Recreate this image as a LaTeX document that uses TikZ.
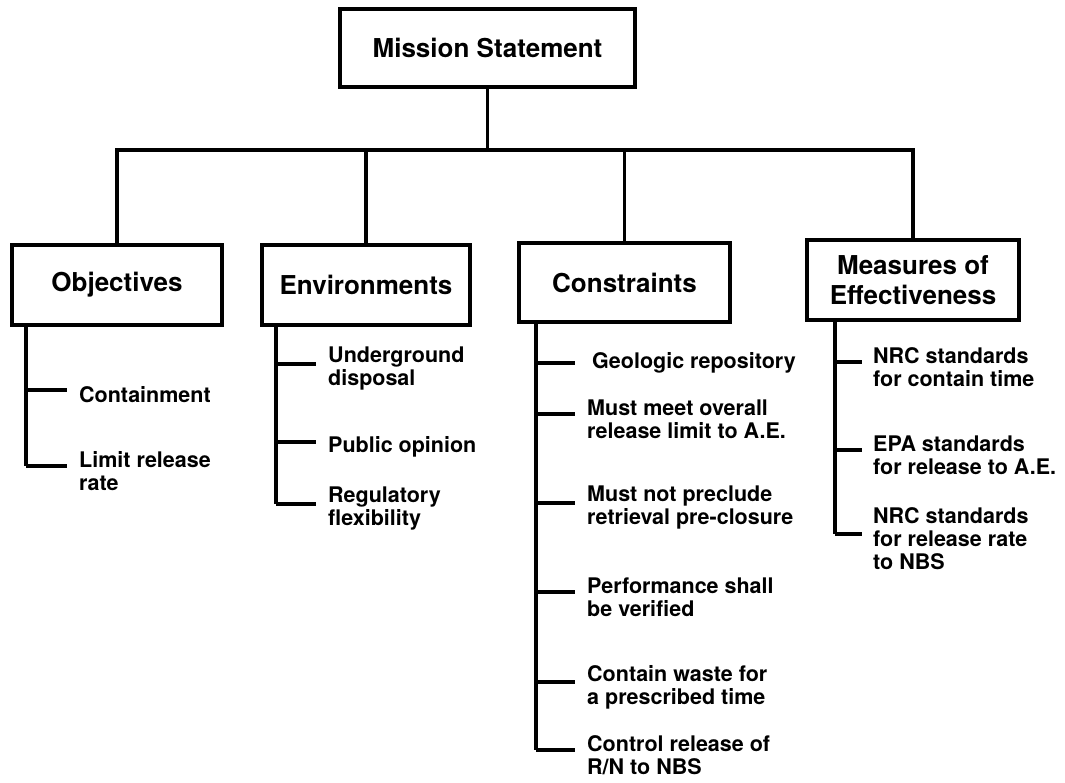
\documentclass[tikz,border=0pt]{standalone}
\usepackage{fontspec}
\setmainfont{TeX Gyre Heros}
\usetikzlibrary{positioning}

\begin{document}
\begin{tikzpicture}[x=1pt,y=-1pt,
  box/.style={draw, line width=3.2pt, inner sep=0pt, align=center, font=\fontsize{26}{30}\selectfont\bfseries},
  item/.style={anchor=west, inner sep=0pt, yshift=-5pt, align=left, font=\fontsize{21.5}{23}\selectfont\bfseries},
  wire/.style={line width=3.2pt}]
\useasboundingbox (0,0) rectangle (1065,783);

% Top box
\node[box, minimum width=295pt, minimum height=78pt] (mission) at (487.5,48) {Mission Statement};

% Second level boxes
\node[box, minimum width=210pt, minimum height=80pt] (obj) at (117,285) {Objectives};
\node[box, minimum width=208pt, minimum height=80pt] (env) at (366,285) {Environments};
\node[box, minimum width=211pt, minimum height=79pt] (con) at (624.5,282.5) {Constraints};
\node[box, minimum width=212pt, minimum height=80pt] (meas) at (913,280) {Measures of\\Effectiveness};

% Tree lines
\coordinate (bar) at (0,150);
\draw[wire] (mission.south) -- (mission.south |- bar);
\draw[wire] (obj.north) -- (obj.north |- bar) -- (meas.north |- bar) -- (meas.north);
\draw[wire] (env.north) -- (env.north |- bar);
\draw[wire] (con.north) -- (con.north |- bar);

% Objectives
\draw[wire] (obj.south -| 26,0) -- (26,466);
\foreach \y/\name/\txt in {390/cont/Containment, 466/limit/{Limit release\\rate}} {
  \coordinate (\name-t) at (26,\y);
  \draw[wire] (\name-t) -- ++(41,0);
  \node[item] (\name) at ([xshift=53pt]\name-t) {\txt};
}

% Environments
\draw[wire] (env.south -| 276,0) -- (276,504);
\foreach \y/\name/\txt in {364/under/{Underground\\disposal}, 442/public/Public opinion,
    504/regul/{Regulatory\\flexibility}} {
  \coordinate (\name-t) at (276,\y);
  \draw[wire] (\name-t) -- ++(40,0);
  \node[item] (\name) at ([xshift=52pt]\name-t) {\txt};
}

% Constraints
\draw[wire] (con.south -| 536,0) -- (536,750);
\coordinate (geo-t) at (536,363);
\draw[wire] (geo-t) -- ++(39,0);
\node[item, yshift=5pt] (geo) at ([xshift=56pt]geo-t) {Geologic repository};
\foreach \y/\name/\txt in {414/meet/{Must meet overall\\release limit to A.E.},
    503/preclude/{Must not preclude\\retrieval pre-closure},
    592/perf/{Performance shall\\be verified},
    682/waste/{Contain waste for\\a prescribed time},
    750/control/{Control release of\\R/N to NBS}} {
  \coordinate (\name-t) at (536,\y);
  \draw[wire] (\name-t) -- ++(39,0);
  \node[item] (\name) at ([xshift=51pt]\name-t) {\txt};
}

% Measures of effectiveness
\draw[wire] (meas.south -| 835,0) -- (835,534);
\foreach \y/\name/\txt in {362/nrcone/{NRC standards\\for contain time},
    450/epa/{EPA standards\\for release to A.E.},
    534/nrctwo/{NRC standards\\for release rate\\to NBS}} {
  \coordinate (\name-t) at (835,\y);
  \draw[wire] (\name-t) -- ++(27,0);
  \node[item] (\name) at ([xshift=38pt]\name-t) {\txt};
}
\end{tikzpicture}
\end{document}
